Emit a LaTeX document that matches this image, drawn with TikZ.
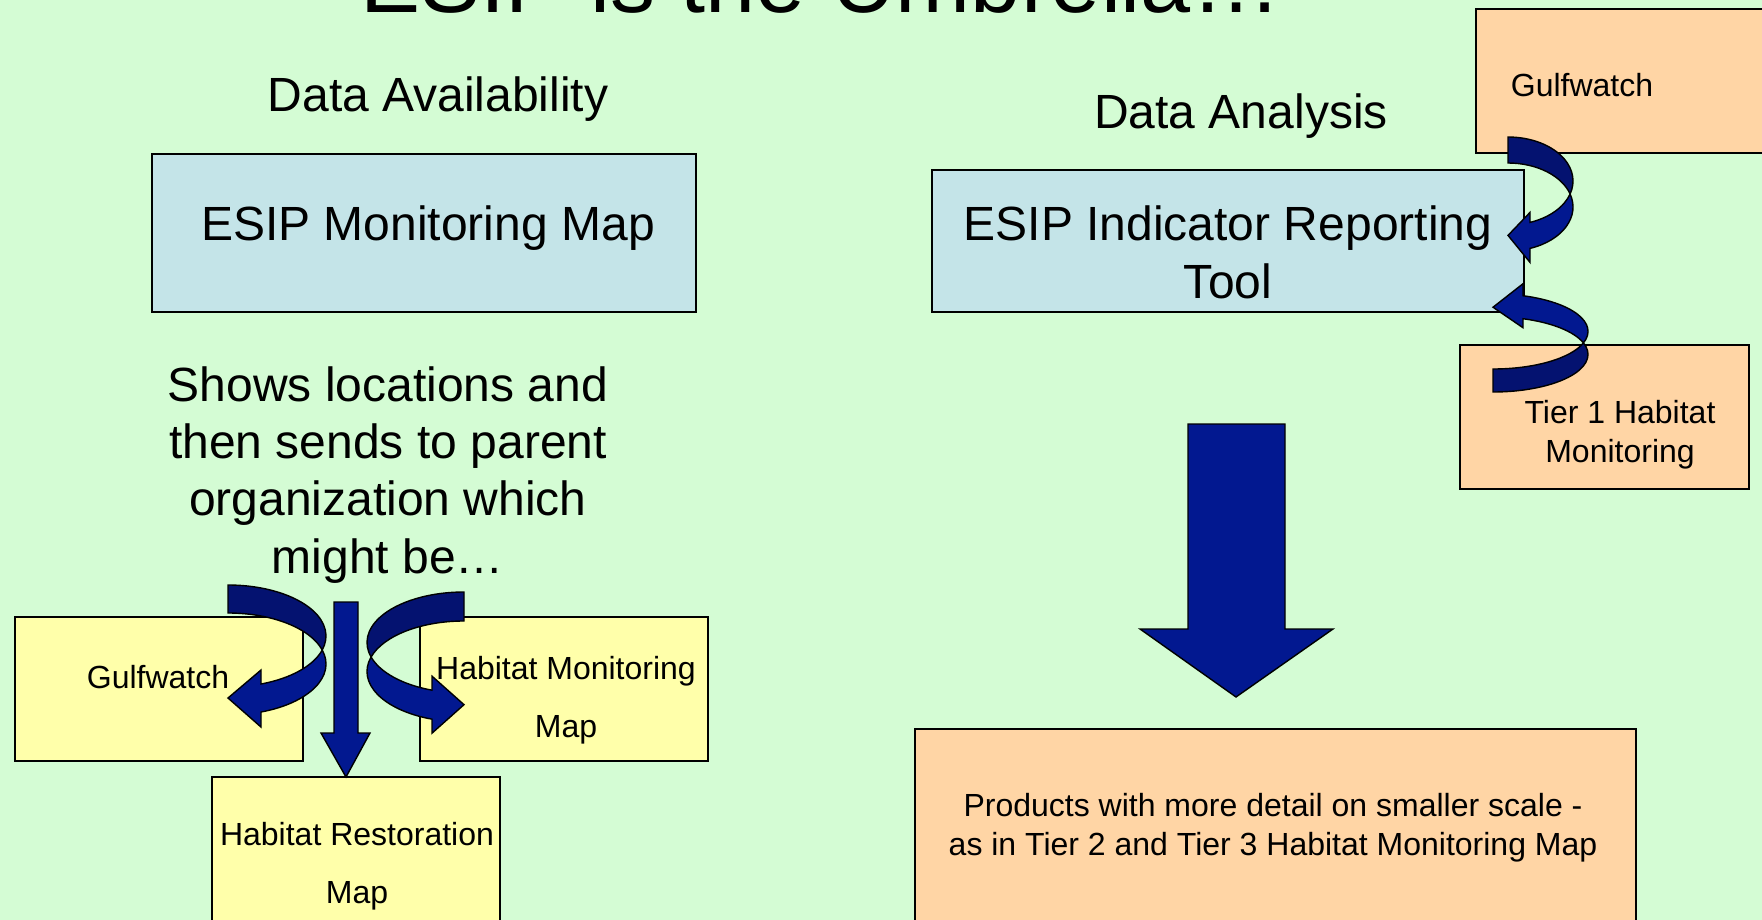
\documentclass[tikz,border=0pt]{standalone}
\usepackage{fontspec}
\setmainfont{Liberation Sans}

\definecolor{slidebg}{RGB}{212,252,212}
\definecolor{boxblue}{RGB}{196,228,232}
\definecolor{boxyellow}{RGB}{255,255,170}
\definecolor{boxorange}{RGB}{255,213,165}
\definecolor{arrowdark}{RGB}{4,18,112}
\definecolor{arrowblue}{RGB}{2,24,144}

\tikzset{
  titletxt/.style={font=\fontsize{45}{54}\selectfont, inner sep=0pt, anchor=base},
  bigtxt/.style={font=\fontsize{24}{28.65}\selectfont, inner sep=0pt, anchor=base, align=center},
  smalltxt/.style={font=\fontsize{16}{19.3}\selectfont, inner sep=0pt, anchor=base, align=center},
  widetxt/.style={font=\fontsize{16}{28.75}\selectfont, inner sep=0pt, anchor=base, align=center},
  bluebox/.style={fill=boxblue, draw=black, line width=0.8pt},
  yellowbox/.style={fill=boxyellow, draw=black, line width=0.8pt},
  orangebox/.style={fill=boxorange, draw=black, line width=0.8pt},
  darkband/.style={fill=arrowdark, draw=black, line width=0.7pt},
  brightband/.style={fill=arrowblue, draw=black, line width=0.7pt},
  blockarrow/.style={fill=arrowblue, draw=black, line width=0.7pt}
}

% bent arrow: rx, ry, band, head dx, head ext inner, head ext outer
\newcommand{\bentarrow}[6]{%
  \pgfmathsetmacro{\crossang}{asin(#3/(2*#2))}%
  \pgfmathsetmacro{\headang}{acos(#4/#1)}%
  \pgfmathsetmacro{\headin}{#2+#2*sin(\headang)}%
  \filldraw[darkband] (0,0) arc[start angle=-90, end angle=\crossang, x radius=#1, y radius=#2]
    arc[start angle=-\crossang, end angle=-90, x radius=#1, y radius=#2] -- cycle;
  \filldraw[brightband] ({#1*cos(\crossang)},{#2+#3/2})
    arc[start angle=\crossang, end angle=\headang, x radius=#1, y radius=#2]
    -- (#4,{\headin-#5}) -- (0,{\headin+#3/2}) -- (#4,{\headin+#3+#6}) -- (#4,{\headin+#3})
    arc[start angle=\headang, end angle=-\crossang, x radius=#1, y radius=#2] -- cycle;
}

\begin{document}
\begin{tikzpicture}[x=0.5pt,y=-0.5pt]
        \useasboundingbox (0,0) rectangle (1762,920);
        \clip (0,0) rectangle (1762,920);
        \fill[slidebg] (0,0) rectangle (1762,920);

        \node[titletxt] (title) at (821,13) {ESIP is the Umbrella…};

        % left half
        \node[bigtxt] (avail) at (438,112) {Data Availability};
        \filldraw[bluebox] (152,154) rectangle (696,312);
        \node[bigtxt] (monmap) at (428,240) {ESIP Monitoring Map};
        \node[bigtxt] (shows) at (388,573) {Shows locations and\\then sends to parent\\organization which\\might be…};

        \filldraw[yellowbox] (15,617) rectangle (303,761);
        \filldraw[yellowbox] (420,617) rectangle (708,761);
        \filldraw[yellowbox] (212,777) rectangle (500,940);
        \node[smalltxt] (gulfleft) at (158,688) {Gulfwatch};
        \node[widetxt] (habmon) at (566,737) {Habitat Monitoring\\Map};
        \node[widetxt] (habrest) at (357,903) {Habitat Restoration\\Map};

        \begin{scope}[shift={(228,585)}]
          \bentarrow{98}{51}{28}{33}{14}{15}
        \end{scope}
        \begin{scope}[shift={(464,592)},xscale=-1]
          \bentarrow{97}{50.5}{29}{32}{14}{14}
        \end{scope}
        \filldraw[blockarrow] (334,602) -- (358,602) -- (358,733) -- (370,733) -- (346,777) -- (321,733) -- (334,733) -- cycle;

        % right half
        \node[bigtxt] (analysis) at (1241,128) {Data Analysis};
        \filldraw[orangebox] (1476,9) rectangle (1780,153);
        \node[smalltxt] (gulfright) at (1582,97) {Gulfwatch};
        \filldraw[bluebox] (932,170) rectangle (1524,312);
        \node[bigtxt] (indtool) at (1228,298) {ESIP Indicator Reporting\\Tool};
        \filldraw[orangebox] (1460,345) rectangle (1749,489);
        \node[smalltxt] (tierone) at (1620,462) {Tier 1 Habitat\\Monitoring};

        \begin{scope}[shift={(1508,137)}]
          \bentarrow{65}{44}{26}{22}{10}{14}
        \end{scope}
        \begin{scope}[shift={(1493,392)},yscale=-1]
          \bentarrow{95}{37.6}{23}{30}{9}{12}
        \end{scope}

        \filldraw[blockarrow] (1188,424) -- (1285,424) -- (1285,629) -- (1333,629) -- (1236,697) -- (1140,629) -- (1188,629) -- cycle;
        \filldraw[orangebox] (915,729) rectangle (1636,940);
        \node[smalltxt] (products) at (1273,855) {Products with more detail on smaller scale -\\as in Tier 2 and Tier 3 Habitat Monitoring Map};
\end{tikzpicture}
\end{document}
